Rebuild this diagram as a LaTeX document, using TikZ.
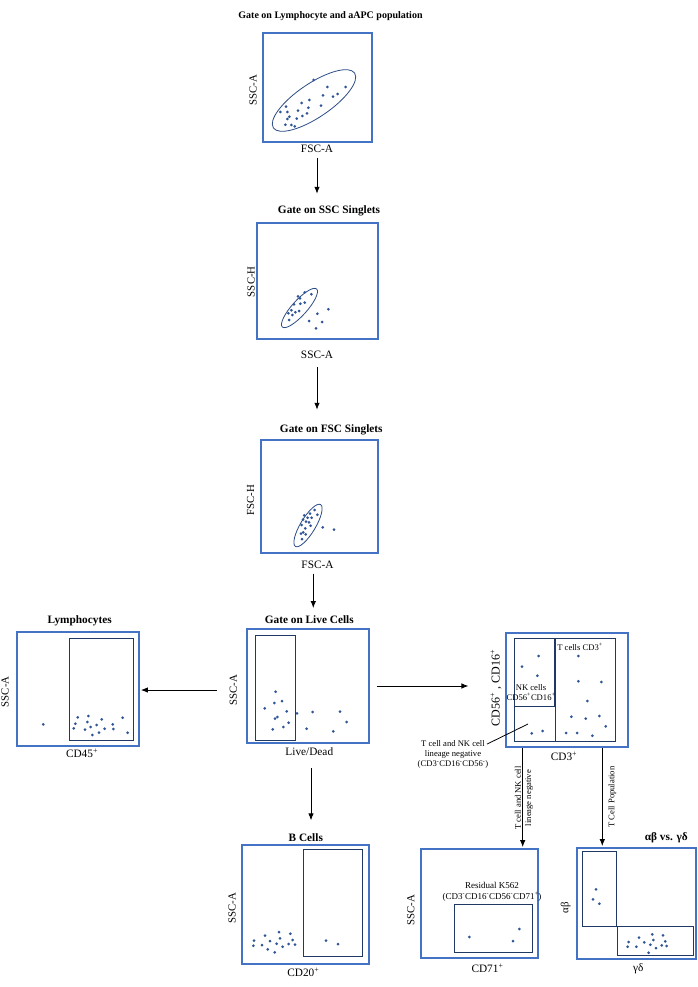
\documentclass[tikz,border=0pt]{standalone}
\usepackage{fontspec}
\setmainfont{Liberation Serif}
\usetikzlibrary{arrows.meta,fit}
\definecolor{boxblue}{HTML}{4472C4}
\definecolor{gatenavy}{HTML}{203864}
\definecolor{dotblue}{HTML}{2F5597}
\definecolor{ringblue}{HTML}{2B4C86}

\begin{document}
\begin{tikzpicture}[x=1pt,y=-1pt,
	plotbox/.style={draw=boxblue,line width=1.8pt,inner sep=0pt},
	gateline/.style={draw=gatenavy,line width=0.9pt},
	ring/.style={draw=ringblue,line width=0.8pt},
	event/.style={fill=dotblue},
	ttl/.style={font=\fontsize{11.3}{13}\selectfont\bfseries,inner sep=1pt,anchor=base},
	axlabel/.style={font=\fontsize{11.3}{13}\selectfont,inner sep=1pt,anchor=base},
	ylabel/.style={font=\fontsize{10.8}{12}\selectfont,inner sep=1pt,rotate=90},
	note/.style={font=\fontsize{8.6}{10.3}\selectfont,inner sep=1pt,align=center},
	flow/.style={-{Latex[length=7pt,width=5.5pt]},line width=0.9pt}]
	\useasboundingbox (0,0) rectangle (697,987);

	% lymphocyte and aAPC gate
	\node[ttl,font=\fontsize{10}{12}\selectfont\bfseries] (t1) at (330.5,18.5) {Gate on Lymphocyte and aAPC population};
	\node[plotbox,fit={(263,33) (372,142)}] (box1) {};
	\node[ylabel] (ssc1) at (253,90) {SSC-A};
	\node[axlabel] (fsc1) at (317,152.7) {FSC-A};
	\draw[ring,rotate around={34:(314,100.5)}] (314,100.5) ellipse (49 and 17);
	\foreach \x/\y in {313.7/80,327.3/87,345.7/87,323/95.3,337.7/94,333/96.7,309.3/100,301.7/103,321/105.7,308.3/107.7,286/106.7,298/110.7,280.3/112,287.3/112,307/113.3,302.3/116,289.3/116.7,287.3/119,296.7/118.7,285.3/124.7,291.3/125,294.7/126.3}
		\fill[event] (\x,\y) circle (1.5pt);

	% SSC singlets
	\node[ttl] (t2) at (329,213.3) {Gate on SSC Singlets};
	\node[plotbox,fit={(257,223) (378,339)}] (box2) {};
	\node[ylabel] (sscH) at (251.2,281.7) {SSC-H};
	\node[axlabel] (ssc2) at (317,358) {SSC-A};
	\draw[ring,rotate around={48:(299.5,308)}] (299.5,308) ellipse (25.6 and 7.5);
	\foreach \x/\y in {304.7/292.3,298/296.3,311.3/294.3,300/298.3,294/304.3,304.7/302.7,300.3/303.7,291.3/310.3,288.3/313.3,295.3/312.3,299/311,292.3/315,289/320,328.3/309.3,317.3/313.7,309/321,322/322,316/328.3}
		\fill[event] (\x,\y) circle (1.5pt);

	% FSC singlets
	\node[ttl] (t3) at (331.3,432.3) {Gate on FSC Singlets};
	\node[plotbox,fit={(261,440) (378,553)}] (box3) {};
	\node[ylabel] (fscH) at (250.5,500) {FSC-H};
	\node[axlabel] (fsc3) at (317.5,568) {FSC-A};
	\draw[ring,rotate around={59:(308,525.5)}] (308,525.5) ellipse (24.4 and 7.5);
	\foreach \x/\y in {314.7/510,310/513.7,304.3/515.3,317.3/514.7,307.7/517.7,311.7/517.7,303/519.7,306/521.7,309/522.3,301.7/525,310.7/525.7,305.3/528.3,303.3/532.3,301/533.7,305.7/534.3,302/539,322.7/527.3,334/529.7}
		\fill[event] (\x,\y) circle (1.5pt);

	% live cells
	\node[ttl] (t4) at (309.3,623.3) {Gate on Live Cells};
	\node[plotbox,fit={(247,629) (369,743)}] (live) {};
	\node[ylabel] (ssc4) at (233.3,690) {SSC-A};
	\node[axlabel] (livedead) at (309.3,755.7) {Live/Dead};
	\draw[gateline] (255,635) rectangle (295,740);
	\foreach \x/\y in {275.7/691.7,274.3/703,282/701,264.7/708.3,286.7/711.3,297/713.3,312.7/712,340/711.7,277.3/717,275/718.7,288.7/722.7,346.7/722,283.3/727,272.7/729.3,306.7/728.7,333.3/731.3}
		\fill[event] (\x,\y) circle (1.5pt);

	% lymphocytes
	\node[ttl] (tlym) at (79.7,623.3) {Lymphocytes};
	\node[plotbox,fit={(17,632) (139,746)}] (lym) {};
	\node[ylabel] (ssclym) at (5,691.7) {SSC-A};
	\node[axlabel] (cd45) at (82,757.3) {CD45\textsuperscript{+}};
	\draw[gateline] (69,638) rectangle (133,740);
	\foreach \x/\y in {43.3/724.3,77.7/717.3,88.3/716,101.7/719.3,122.7/717.7,75.3/723.7,87.3/722,96.7/725,112.7/724.3,73.7/728.3,90.7/727,85/729.7,104.7/728.7,113.3/729,99/732.7,92.3/735,127.7/732.7}
		\fill[event] (\x,\y) circle (1.5pt);

	% B cells
	\node[ttl] (tb) at (305.8,841.7) {B Cells};
	\node[plotbox,fit={(242,845) (369,964)}] (bcell) {};
	\node[ylabel] (sscb) at (232.2,908.3) {SSC-A};
	\node[axlabel] (cd20) at (303.3,976) {CD20\textsuperscript{+}};
	\draw[gateline] (303,849) rectangle (362,956);
	\foreach \x/\y in {279/932,290.3/933.7,265/935.7,280/938.3,254/940.7,270/941,292.7/940,276.7/943.7,288.7/944,295/944.7,253.3/945.7,262/945,282.7/946.7,267.7/949.3,274.7/952.3,326/940.7,338/944}
		\fill[event] (\x,\y) circle (1.5pt);

	% CD56/CD16 vs CD3
	\node[plotbox,fit={(506,633) (628,747)}] (cdplot) {};
	\node[ylabel,font=\fontsize{12}{14}\selectfont] (cd56) at (496,688) {CD56\textsuperscript{+} , CD16\textsuperscript{+}};
	\node[axlabel] (cd3) at (564,760) {CD3\textsuperscript{+}};
	\draw[gateline] (514,638) rectangle (554,706);
	\draw[gateline] (514,706) rectangle (555,741);
	\draw[gateline] (555,638) rectangle (615,741);
	\node[note,anchor=base] (tcells) at (580,650) {T cells CD3\textsuperscript{+}};
	\node[note] (nk) at (531,692.5) {NK cells\\CD56\textsuperscript{+}CD16\textsuperscript{+}};
	\foreach \x/\y in {538.7/656,522/666.7,537.3/675.7,578.3/656,578.3/681.3,601.3/682,587.3/701,571.3/716.7,585.7/718.7,599.3/716,605.7/726.3,531.7/733.3,542.7/731,566/733,577/733,592.3/735.7}
		\fill[event] (\x,\y) circle (1.5pt);
	\node[note] (lineneg) at (453,754.5) {T cell and NK cell\\lineage negative\\(CD3\textsuperscript{-}CD16\textsuperscript{-}CD56\textsuperscript{-})};
	\coordinate (lnpt) at (528,724);

	% residual K562
	\node[plotbox,fit={(421,849) (538,958)}] (k562) {};
	\node[ylabel] (ssck) at (410.8,910) {SSC-A};
	\node[axlabel] (cd71) at (487.5,972.3) {CD71\textsuperscript{+}};
	\draw[gateline] (454,904) rectangle (532,952);
	\node[note,font=\fontsize{9}{11}\selectfont] (resid) at (492,892) {Residual K562\\(CD3\textsuperscript{-}CD16\textsuperscript{-}CD56\textsuperscript{-}CD71\textsuperscript{+})};
	\foreach \x/\y in {469.3/937,519.3/929,513/941}
		\fill[event] (\x,\y) circle (1.5pt);

	% alpha beta vs gamma delta
	\node[ttl] (tab) at (666.3,840.7) {αβ vs. γδ};
	\node[plotbox,fit={(577,848) (696,959)}] (abgd) {};
	\node[ylabel] (ablab) at (565.8,907.7) {αβ};
	\node[axlabel] (gdlab) at (638.3,971.7) {γδ};
	\draw[gateline] (582,851) rectangle (616,926);
	\draw[gateline] (617,926) rectangle (693,955);
	\foreach \x/\y in {596/889.3,593/899.3,599.3/903.7,652.3/934.3,663/935.3,639/937.7,653.3/940,665.3/941.3,628.7/942,644.3/942.3,650.3/944.7,661.7/945.3,666.7/946,627.7/946.7,636.3/946.7,656/948,648.7/952.7}
		\fill[event] (\x,\y) circle (1.5pt);

	% arrows
	\draw[flow,shorten <=4.3pt,shorten >=10.5pt] (fsc1.south) -- (fsc1.south |- t2.north);
	\draw[flow,shorten <=8pt,shorten >=13.5pt] (ssc2.south) -- (ssc2.south |- t3.north);
	\draw[flow,shorten <=4.3pt,shorten >=6.2pt] ([xshift=-4.2pt]fsc3.south) -- ([xshift=-4.2pt]fsc3.south |- t4.north);
	\draw[flow,shorten <=11pt,shorten >=12.3pt] ([xshift=1.7pt]livedead.south) -- ([xshift=1.7pt]livedead.south |- tb.north);
	\draw[flow,shorten <=11.5pt,shorten >=1pt] (ssc4.north) -- (ssc4.north -| lym.east);
	\draw[flow,shorten <=7pt,shorten >=21pt] (live.east) -- (live.east -| cd56.north);
	\draw[flow,shorten >=1pt] ([xshift=-44.3pt]cdplot.south) -- ([xshift=-44.3pt]cdplot.south |- k562.north);
	\draw[flow,shorten >=1pt] ([xshift=35.3pt]cdplot.south) -- ([xshift=35.3pt]cdplot.south |- abgd.north);
	\draw[line width=0.8pt] ([xshift=-2.5pt,yshift=-5pt]lineneg.north east) -- (lnpt);
	\node[note,rotate=90] (negarrow) at (524,798) {T cell and NK cell\\lineage negative};
	\node[note,rotate=90] (tarrow) at (612.3,797) {T Cell Population};
\end{tikzpicture}
\end{document}
